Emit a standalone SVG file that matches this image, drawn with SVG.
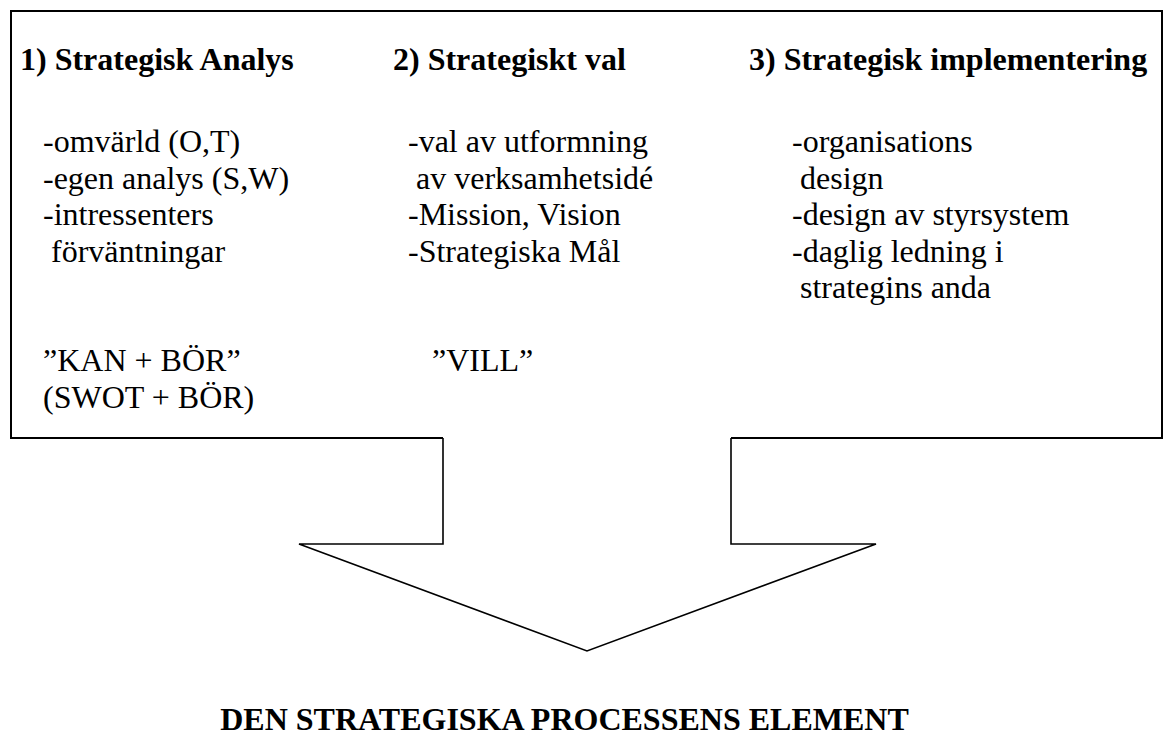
<svg xmlns="http://www.w3.org/2000/svg" width="1166" height="742" viewBox="0 0 1166 742">
  <style>
    .frame { fill: none; stroke: #000; stroke-width: 2; stroke-linejoin: miter; }
    .arrow { fill: none; stroke: #000; stroke-width: 1.6; stroke-linejoin: miter; }
    text { font-family: "Liberation Serif", "Times New Roman", serif; font-size: 32px; fill: #000; }
    .head { font-weight: bold; }
    .title { font-weight: bold; text-anchor: middle; }
  </style>

  <!-- outer frame, open at the bottom where the arrow shaft leaves it -->
  <g id="frame">
    <path class="frame" d="M443,438 L11,438 L11,11 L1162,11 L1162,438 L731,438"/>
  </g>

  <!-- downward block arrow -->
  <g id="connectors">
    <path class="arrow" d="M443,438 L443,544 L299,544 L587,651 L876,544 L731,544 L731,438"/>
  </g>

  <g id="analys">
    <text class="head" x="20" y="70">1) Strategisk Analys</text>
    <text x="43" y="152">-omvärld (O,T)</text>
    <text x="43" y="188.5">-egen analys (S,W)</text>
    <text x="43" y="225">-intressenters</text>
    <text x="51" y="261.5">förväntningar</text>
    <text x="43" y="371">”KAN + BÖR”</text>
    <text x="43" y="407.5">(SWOT + BÖR)</text>
  </g>

  <g id="val">
    <text class="head" x="393" y="70">2) Strategiskt val</text>
    <text x="408" y="152">-val av utformning</text>
    <text x="416" y="188.5">av verksamhetsidé</text>
    <text x="408" y="225">-Mission, Vision</text>
    <text x="408" y="261.5">-Strategiska Mål</text>
    <text x="432" y="371">”VILL”</text>
  </g>

  <g id="implementering">
    <text class="head" x="749" y="70">3) Strategisk implementering</text>
    <text x="792" y="152">-organisations</text>
    <text x="800" y="188.5">design</text>
    <text x="792" y="225">-design av styrsystem</text>
    <text x="792" y="261.5">-daglig ledning i</text>
    <text x="800" y="298">strategins anda</text>
  </g>

  <g id="title">
    <text class="title" x="564.5" y="730">DEN STRATEGISKA PROCESSENS ELEMENT</text>
  </g>
</svg>
